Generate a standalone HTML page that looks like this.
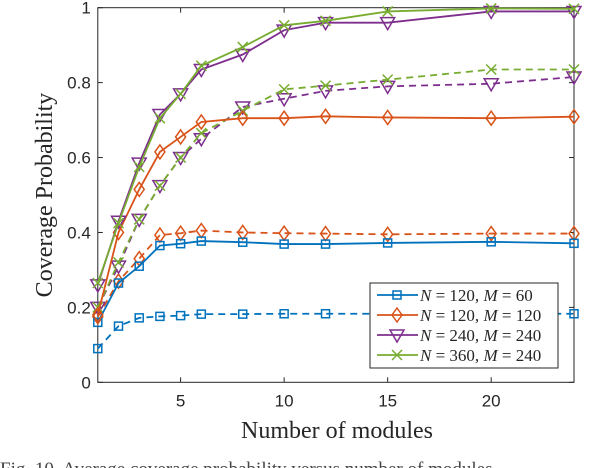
<!DOCTYPE html>
<html><head><meta charset="utf-8"><style>
body{margin:0;background:#fff;width:606px;height:468px;overflow:hidden}
svg{display:block}
</style></head><body>
<svg id="c" width="606" height="468" xmlns="http://www.w3.org/2000/svg"></svg>
<script>
const xs=[1,2,3,4,5,6,8,10,12,15,20,24];
const blueSolid=[0.16,0.265,0.31,0.365,0.37,0.377,0.374,0.369,0.369,0.372,0.375,0.371];
const blueDash=[0.09,0.15,0.172,0.176,0.178,0.182,0.182,0.183,0.183,0.183,0.183,0.183];
const orangeSolid=[0.18,0.40,0.515,0.615,0.655,0.695,0.705,0.705,0.71,0.707,0.705,0.709];
const orangeDash=[0.175,0.27,0.33,0.393,0.398,0.405,0.40,0.398,0.397,0.395,0.397,0.397];
const purpleSolid=[0.26,0.43,0.585,0.715,0.77,0.835,0.875,0.94,0.96,0.96,0.99,0.99];
const purpleDash=[0.20,0.31,0.435,0.525,0.60,0.65,0.735,0.757,0.778,0.79,0.797,0.815];
const greenSolid=[0.265,0.425,0.575,0.705,0.77,0.845,0.895,0.953,0.965,0.99,0.998,0.997];
const greenDash=[0.20,0.32,0.435,0.525,0.60,0.665,0.725,0.782,0.792,0.808,0.835,0.835];
const xTicks=[5,10,15,20];
const yTicks=[0,0.2,0.4,0.6,0.8,1];
const yTickLabels=["0","0.2","0.4","0.6","0.8","1"];
const legendLabels=["N = 120, M = 60","N = 120, M = 120","N = 240, M = 240","N = 360, M = 240"];

const L=97.8,R=574,T=7.7,B=382.3;
const sx=v=>L+(v-1)/(24-1)*(R-L);
const sy=v=>B-v*(B-T);
const svg=document.getElementById('c');
const NS='http://www.w3.org/2000/svg';
function mk(tag,attrs,parent){const e=document.createElementNS(NS,tag);for(const k in attrs)e.setAttribute(k,attrs[k]);(parent||svg).appendChild(e);return e;}

const box=mk('rect',{x:L,y:T,width:R-L,height:B-T,fill:'none',stroke:'#262626','stroke-width':1});


xTicks.forEach(v=>{
  mk('line',{x1:sx(v),x2:sx(v),y1:B,y2:B-5,stroke:'#262626'});
  mk('line',{x1:sx(v),x2:sx(v),y1:T,y2:T+5,stroke:'#262626'});
  const t=mk('text',{x:sx(v),y:B+24,'text-anchor':'middle','font-family':'Liberation Sans, sans-serif','font-size':17,fill:'#262626'});
  t.textContent=v;
  
  
});
yTicks.forEach((v,i)=>{
  mk('line',{x1:L,x2:L+5,y1:sy(v),y2:sy(v),stroke:'#262626'});
  mk('line',{x1:R,x2:R-5,y1:sy(v),y2:sy(v),stroke:'#262626'});
  const t=mk('text',{x:L-7,y:sy(v)+6,'text-anchor':'end','font-family':'Liberation Sans, sans-serif','font-size':17,fill:'#262626'});
  t.textContent=yTickLabels[i];
  
  
});
const xl=mk('text',{x:337,y:438,'text-anchor':'middle','font-family':'Liberation Serif, serif','font-size':24,fill:'#262626'});
xl.textContent='Number of modules';


const yl=mk('text',{x:0,y:0,'text-anchor':'middle','font-family':'Liberation Serif, serif','font-size':24,fill:'#262626',transform:'translate(52,195) rotate(-90)'});
yl.textContent='Coverage Probability';


const cap=mk('text',{x:0,y:475,'font-family':'Liberation Serif, serif','font-size':19,fill:'#444'});
cap.textContent='Fig. 10.  Average coverage probability versus number of modules';



function marker(kind,x,y,col,g){
  const s=5;
  if(kind==='sq') mk('rect',{x:x-4,y:y-4,width:8,height:8,fill:'none',stroke:col,'stroke-width':1.5},g);
  else if(kind==='di') mk('polygon',{points:`${x},${y-7} ${x+5},${y} ${x},${y+7} ${x-5},${y}`,fill:'none',stroke:col,'stroke-width':1.5},g);
  else if(kind==='tr') mk('polygon',{points:`${x-7},${y-5} ${x+7},${y-5} ${x},${y+7}`,fill:'none',stroke:col,'stroke-width':1.5},g);
  else { mk('line',{x1:x-s,y1:y-s,x2:x+s,y2:y+s,stroke:col,'stroke-width':1.5},g); mk('line',{x1:x-s,y1:y+s,x2:x+s,y2:y-s,stroke:col,'stroke-width':1.5},g); }
}
const series=[
 {v:blueDash,c:'#0072BD',m:'sq',d:true,n:'series-n120-m60-dashed'},
 {v:orangeDash,c:'#D95319',m:'di',d:true,n:'series-n120-m120-dashed'},
 {v:purpleDash,c:'#7E2F8E',m:'tr',d:true,n:'series-n240-m240-dashed'},
 {v:greenDash,c:'#77AC30',m:'x',d:true,n:'series-n360-m240-dashed'},
 {v:blueSolid,c:'#0072BD',m:'sq',d:false,n:'series-n120-m60'},
 {v:orangeSolid,c:'#D95319',m:'di',d:false,n:'series-n120-m120'},
 {v:purpleSolid,c:'#7E2F8E',m:'tr',d:false,n:'series-n240-m240'},
 {v:greenSolid,c:'#77AC30',m:'x',d:false,n:'series-n360-m240'}
];
series.forEach(s=>{
  const g=mk('g',{});
  
  
  const pts=xs.map((x,i)=>sx(x)+','+sy(s.v[i])).join(' ');
  const attrs={points:pts,fill:'none',stroke:s.c,'stroke-width':1.8};
  if(s.d)attrs['stroke-dasharray']='7,5';
  mk('polyline',attrs,g);
  xs.forEach((x,i)=>marker(s.m,sx(x),sy(s.v[i]),s.c,g));
});
const lg=mk('g',{});


mk('rect',{x:370,y:283,width:188,height:85,fill:'#fff',stroke:'#262626','stroke-width':1},lg);
const lc=['#0072BD','#D95319','#7E2F8E','#77AC30'],lm=['sq','di','tr','x'];
legendLabels.forEach((lab,i)=>{
  const y=295+i*20;
  const e=mk('g',{},lg);
  
  
  mk('line',{x1:377,x2:418,y1:y,y2:y,stroke:lc[i],'stroke-width':1.8},e);
  marker(lm[i],397,y,lc[i],e);
  const t=mk('text',{x:420,y:y+6,'font-family':'Liberation Serif, serif','font-size':17,fill:'#262626'},e);
  const p=lab.split(/(N|M)/);
  p.forEach(part=>{if(!part)return;const ts=mk('tspan',{},t);if(part==='N'||part==='M')ts.setAttribute('font-style','italic');ts.textContent=part;});
});
</script>
</body></html>
